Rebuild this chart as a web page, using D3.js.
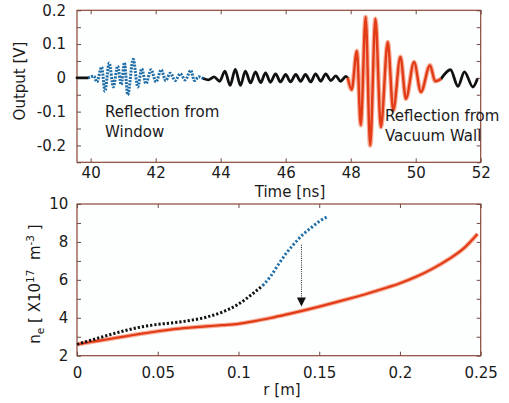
<!DOCTYPE html>
<html>
<head>
<meta charset="utf-8">
<script src="https://cdn.jsdelivr.net/npm/d3@7"></script>
<style>
  body { margin: 0; background: #ffffff; }
  svg text { font-family: "DejaVu Sans", sans-serif; fill: #1a1a1a; }
  .frame { fill: #fdfefe; stroke: #8a4636; stroke-width: 1.2; }
  .domain { display: none; }
</style>
</head>
<body>
<svg id="chart" width="509" height="403"></svg>
<script>
// ---- top panel: detector output vs time, [time ns, output V] at the extrema ----
var leadTrace = [[39.58, 0], [39.92, 0]];
var windowEcho = [
    [39.92, 0], [40.10, 0.005], [40.19, -0.012], [40.34, 0.032], [40.44, -0.04],
    [40.57, 0.044], [40.70, -0.027], [40.83, 0.035], [40.94, -0.02], [41.04, 0.045],
    [41.14, -0.05], [41.31, 0.055], [41.45, -0.027], [41.57, 0.027], [41.70, -0.017],
    [41.86, 0.024], [42.01, -0.012], [42.17, 0.024], [42.31, -0.008], [42.45, 0.014],
    [42.60, -0.008], [42.76, 0.012], [42.91, -0.006], [43.08, 0.022], [43.19, -0.008],
    [43.33, 0.003], [43.47, -0.002]
];
var midTrace = [
    [43.47, -0.002], [43.62, -0.006], [43.80, 0.003], [43.97, -0.01], [44.13, 0.02],
    [44.29, -0.022], [44.45, 0.025], [44.61, -0.022], [44.76, 0.02], [44.92, -0.015],
    [45.07, 0.018], [45.23, -0.014], [45.38, 0.015], [45.53, -0.013], [45.69, 0.012],
    [45.84, -0.012], [46.00, 0.01], [46.15, -0.012], [46.31, 0.01], [46.46, -0.01],
    [46.61, 0.01], [46.77, -0.012], [46.92, 0.012], [47.08, -0.01], [47.23, 0.012],
    [47.39, -0.008], [47.54, 0.006], [47.69, -0.01], [47.85, 0.004], [47.91, 0]
];
var wallEcho = [
    [47.91, 0], [48.03, -0.035], [48.19, 0.08], [48.31, -0.14], [48.46, 0.18],
    [48.60, -0.2], [48.76, 0.175], [48.93, -0.146], [49.14, 0.106], [49.31, -0.096],
    [49.53, 0.062], [49.70, -0.062], [49.95, 0.047], [50.16, -0.042], [50.44, 0.037],
    [50.60, -0.01], [50.78, -0.003]
];
var tailTrace = [
    [50.78, -0.003], [51.07, 0.024], [51.30, -0.025], [51.50, 0.018], [51.76, -0.027],
    [51.89, -0.005]
];
var timeTicks = [40, 42, 44, 46, 48, 50, 52];
var outputTicks = [-0.25, -0.2, -0.15, -0.1, -0.05, 0, 0.05, 0.1, 0.15, 0.2];
var outputLabels = [-0.2, -0.1, 0, 0.1, 0.2];

// ---- bottom panel: density profile, r [m] vs n_e [1e17 m^-3] ----
var rawR = [0, 0.01, 0.02, 0.03, 0.04, 0.05, 0.06, 0.07, 0.08, 0.09, 0.10, 0.11, 0.115];
var rawN = [2.6, 2.85, 3.1, 3.33, 3.52, 3.65, 3.74, 3.86, 4.03, 4.3, 4.72, 5.35, 5.7];
var edgeR = [0.115, 0.12, 0.125, 0.13, 0.135, 0.14, 0.145, 0.15, 0.155];
var edgeN = [5.7, 6.2, 6.85, 7.45, 7.95, 8.4, 8.75, 9.08, 9.33];
var fixedR = [0, 0.01, 0.02, 0.03, 0.04, 0.05, 0.06, 0.07, 0.08, 0.09, 0.10, 0.11, 0.12,
    0.13, 0.14, 0.15, 0.16, 0.17, 0.18, 0.19, 0.20, 0.21, 0.22, 0.23, 0.24, 0.248];
var fixedN = [2.6, 2.74, 2.88, 3.02, 3.16, 3.29, 3.4, 3.48, 3.55, 3.61, 3.68, 3.82, 3.99,
    4.18, 4.38, 4.59, 4.81, 5.04, 5.28, 5.54, 5.82, 6.16, 6.58, 7.08, 7.7, 8.42];
var arrowR = 0.139, arrowFrom = 7.85, arrowTo = 4.6;
var radiusTicks = [0, 0.05, 0.1, 0.15, 0.2, 0.25];
var densityTicks = [2, 3, 4, 5, 6, 7, 8, 9, 10];
var densityLabels = [2, 4, 6, 8, 10];

var svg = d3.select('#chart');

function fmt(d) {
    return String(+d.toFixed(2));
}

function frameAxes(g, x, y, xTicks, yTicks, yLabels, xPad, yPad) {
    var w = x.range()[1] - x.range()[0];
    var h = y.range()[0] - y.range()[1];
    g.append('rect').attr('class', 'frame')
        .attr('x', x.range()[0]).attr('y', y.range()[1])
        .attr('width', w).attr('height', h);

    var fs = '15px';
    g.append('g').attr('transform', 'translate(0,' + y.range()[0] + ')')
        .call(d3.axisBottom(x).tickValues(xTicks).tickSize(-4).tickPadding(xPad).tickFormat(fmt))
        .selectAll('text').style('font-size', fs);
    g.append('g').attr('transform', 'translate(0,' + y.range()[1] + ')')
        .call(d3.axisTop(x).tickValues(xTicks).tickSize(-4).tickFormat(''));
    g.append('g').attr('transform', 'translate(' + x.range()[0] + ',0)')
        .call(d3.axisLeft(y).tickValues(yTicks).tickSize(-4).tickPadding(yPad)
            .tickFormat(function (d) {
                return yLabels.some(function (v) { return Math.abs(v - d) < 1e-9; }) ? fmt(d) : '';
            }))
        .selectAll('text').style('font-size', fs);
    g.append('g').attr('transform', 'translate(' + x.range()[1] + ',0)')
        .call(d3.axisRight(y).tickValues(yTicks).tickSize(-4).tickFormat(''));
    g.selectAll('.tick line').attr('stroke', '#6f4a40');
    g.selectAll('.tick text').attr('fill', '#1a1a1a');
}

// ---------------- top panel ----------------
var xT = d3.scaleLinear().domain([39.58, 52]).range([77, 480.7]);
var yT = d3.scaleLinear().domain([-0.25, 0.2]).range([162.3, 10.3]);
var topPanel = svg.append('g');
frameAxes(topPanel, xT, yT, timeTicks, outputTicks, outputLabels, 5, 11);

var wave = d3.line()
    .x(function (d) { return xT(d[0]); })
    .y(function (d) { return yT(d[1]); })
    .curve(d3.curveMonotoneX);

[leadTrace, midTrace, tailTrace].forEach(function (seg) {
    topPanel.append('path').attr('d', wave(seg))
        .attr('fill', 'none').attr('stroke', '#111').attr('stroke-width', 2.8)
        .attr('stroke-linecap', 'round').attr('stroke-linejoin', 'round');
});
topPanel.append('path').attr('d', wave(windowEcho))
    .attr('fill', 'none').attr('stroke', '#1f6ea8').attr('stroke-width', 3)
    .attr('stroke-dasharray', '2,1.2');
topPanel.append('path').attr('d', wave(wallEcho))
    .attr('fill', 'none').attr('stroke', '#f7b09c').attr('stroke-width', 4.6)
    .attr('stroke-linejoin', 'round');
topPanel.append('path').attr('d', wave(wallEcho))
    .attr('fill', 'none').attr('stroke', '#e23c17').attr('stroke-width', 2.4)
    .attr('stroke-linejoin', 'round');

topPanel.append('text').attr('x', 105).attr('y', 116.7).style('font-size', '15px').text('Reflection from');
topPanel.append('text').attr('x', 105).attr('y', 137.3).style('font-size', '15px').text('Window');
topPanel.append('text').attr('x', 385).attr('y', 120.7).style('font-size', '15px').text('Reflection from');
topPanel.append('text').attr('x', 385).attr('y', 140.7).style('font-size', '15px').text('Vacuum Wall');

topPanel.append('text').attr('transform', 'translate(25,81) rotate(-90)')
    .attr('text-anchor', 'middle').style('font-size', '15px').text('Output [V]');
topPanel.append('text').attr('x', 290).attr('y', 197)
    .attr('text-anchor', 'middle').style('font-size', '15px').text('Time [ns]');

// ---------------- bottom panel ----------------
var xB = d3.scaleLinear().domain([0, 0.25]).range([77, 480.7]);
var yB = d3.scaleLinear().domain([2, 10]).range([355.7, 204]);
var bottomPanel = svg.append('g');
frameAxes(bottomPanel, xB, yB, radiusTicks, densityTicks, densityLabels, 12, 8.7);

function profile(rs, ns) {
    return d3.line()
        .x(function (d, i) { return xB(rs[i]); })
        .y(function (d, i) { return yB(ns[i]); })
        .curve(d3.curveMonotoneX)(rs);
}

bottomPanel.append('path').attr('d', profile(fixedR, fixedN))
    .attr('fill', 'none').attr('stroke', '#f7b09c').attr('stroke-width', 4.4);
bottomPanel.append('path').attr('d', profile(fixedR, fixedN))
    .attr('fill', 'none').attr('stroke', '#e23c17').attr('stroke-width', 2.2);
bottomPanel.append('path').attr('d', profile(rawR, rawN))
    .attr('fill', 'none').attr('stroke', '#111').attr('stroke-width', 3)
    .attr('stroke-dasharray', '2.2,2');
bottomPanel.append('path').attr('d', profile(edgeR, edgeN))
    .attr('fill', 'none').attr('stroke', '#1f6ea8').attr('stroke-width', 3)
    .attr('stroke-dasharray', '2.2,2');

// arrow from measured to corrected profile
var ax = xB(arrowR), ay0 = yB(arrowFrom), ay1 = yB(arrowTo);
bottomPanel.append('line').attr('x1', ax).attr('x2', ax).attr('y1', ay0).attr('y2', ay1 - 8)
    .attr('stroke', '#222').attr('stroke-width', 1).attr('stroke-dasharray', '1,1.2');
bottomPanel.append('path')
    .attr('d', 'M' + (ax - 4.5) + ',' + (ay1 - 9) + 'L' + (ax + 4.5) + ',' + (ay1 - 9) +
        'L' + ax + ',' + ay1 + 'Z')
    .attr('fill', '#111');

var yl = bottomPanel.append('text').attr('transform', 'translate(40,284) rotate(-90)')
    .attr('text-anchor', 'middle').style('font-size', '15px');
yl.append('tspan').text('n');
yl.append('tspan').attr('dy', 4).style('font-size', '10.5px').text('e');
yl.append('tspan').attr('dy', -4).text(' [ X10');
yl.append('tspan').attr('dy', -6).style('font-size', '10.5px').text('17');
yl.append('tspan').attr('dy', 6).text('\u00a0 m');
yl.append('tspan').attr('dy', -6).style('font-size', '10.5px').text('-3');
yl.append('tspan').attr('dy', 6).text(' ]');

bottomPanel.append('text').attr('x', 282).attr('y', 395)
    .attr('text-anchor', 'middle').style('font-size', '15px').text('r [m]');
</script>
</body>
</html>
